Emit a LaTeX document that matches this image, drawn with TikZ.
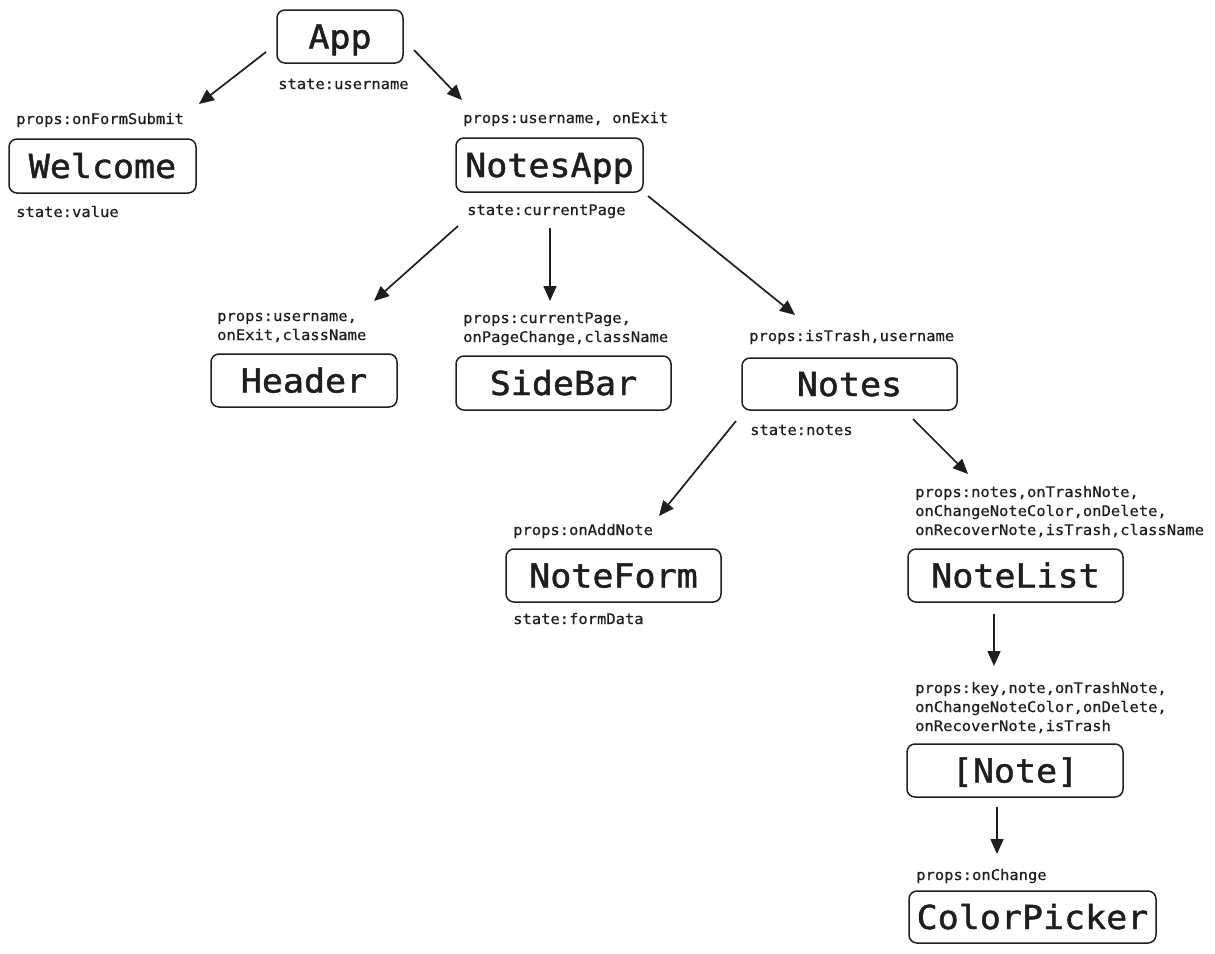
\documentclass[tikz,border=0pt]{standalone}
\usepackage{fontspec}
\newfontfamily\codefont[FakeStretch=1.06,FakeBold=0.6]{DejaVu Sans Mono}
\newfontfamily\namefont[FakeStretch=1.06,FakeBold=1.4]{DejaVu Sans Mono}
\usetikzlibrary{arrows.meta}
\definecolor{ink}{HTML}{1E1E1E}
\begin{document}
\begin{tikzpicture}[x=1pt,y=-1pt,
  comp/.style={draw=ink, line width=1.5pt, rounded corners=8pt, inner sep=0pt,
    text=ink, font=\namefont\fontsize{33}{36}\selectfont,
    text height=24pt, text depth=0pt},
  lbl/.style={anchor=base west, inner sep=0pt, text=ink, align=left,
    font=\codefont\fontsize{14.6}{19}\selectfont},
  arr/.style={draw=ink, line width=1.7pt, -{Triangle[length=15pt,width=13pt]}}]
\useasboundingbox (0,0) rectangle (1215,953);

% component boxes
\node[comp, minimum width=126pt, minimum height=53pt] (app)      at (340,36.5)   {App};
\node[comp, minimum width=187pt, minimum height=54pt] (welcome)  at (102.5,166)  {Welcome};
\node[comp, minimum width=187pt, minimum height=54pt] (notesapp) at (549.5,165)  {NotesApp};
\node[comp, minimum width=186pt, minimum height=53pt] (header)   at (304,380.5)  {Header};
\node[comp, minimum width=215pt, minimum height=54pt] (sidebar)  at (563.5,383)  {SideBar};
\node[comp, minimum width=215pt, minimum height=52pt] (notes)    at (849.5,384)  {Notes};
\node[comp, minimum width=215pt, minimum height=53pt] (noteform) at (613.5,575.5) {NoteForm};
\node[comp, minimum width=215pt, minimum height=53pt] (notelist) at (1015.5,575.5) {NoteList};
\node[comp, minimum width=216pt, minimum height=53pt] (note)     at (1015,770.5) {[Note]};
\node[comp, minimum width=247pt, minimum height=52pt] (picker)   at (1032.5,917) {ColorPicker};

% props and state labels (multi-line ones sit on the baseline of their last line)
\node[lbl] (appstate)      at (278,89)  {state:username};
\node[lbl] (welcomeprops)  at (16,124)  {props:onFormSubmit};
\node[lbl] (welcomestate)  at (16,217)  {state:value};
\node[lbl] (notesappprops) at (463,123) {props:username, onExit};
\node[lbl] (notesappstate) at (467,215) {state:currentPage};
\node[lbl] (headerprops)   at (217,340) {props:username,\\onExit,className};
\node[lbl] (sidebarprops)  at (463,342) {props:currentPage,\\onPageChange,className};
\node[lbl] (notesprops)    at (749,341) {props:isTrash,username};
\node[lbl] (notesstate)    at (750,435) {state:notes};
\node[lbl] (formprops)     at (513,535) {props:onAddNote};
\node[lbl] (formstate)     at (513,624) {state:formData};
\node[lbl] (listprops)     at (915,535) {props:notes,onTrashNote,\\onChangeNoteColor,onDelete,\\onRecoverNote,isTrash,className};
\node[lbl] (noteprops)     at (915,731) {props:key,note,onTrashNote,\\onChangeNoteColor,onDelete,\\onRecoverNote,isTrash};
\node[lbl] (pickerprops)   at (916,880) {props:onChange};

% connector end points
\coordinate (a1) at (266,52);   \coordinate (a2) at (199,104);
\coordinate (b1) at (414,50);   \coordinate (b2) at (462,100);
\coordinate (c1) at (458,226);  \coordinate (c2) at (374,301);
\coordinate (d1) at (550,228);  \coordinate (d2) at (550,301);
\coordinate (e1) at (648,196);  \coordinate (e2) at (795,315);
\coordinate (f1) at (736,421);  \coordinate (f2) at (659,516);
\coordinate (g1) at (913,419);  \coordinate (g2) at (968,474);
\coordinate (h1) at (994,614);  \coordinate (h2) at (994,666);
\coordinate (i1) at (997,807);  \coordinate (i2) at (997,854);

% parent to child arrows
\draw[arr] (a1) -- (a2);
\draw[arr] (b1) -- (b2);
\draw[arr] (c1) -- (c2);
\draw[arr] (d1) -- (d2);
\draw[arr] (e1) -- (e2);
\draw[arr] (f1) -- (f2);
\draw[arr] (g1) -- (g2);
\draw[arr] (h1) -- (h2);
\draw[arr] (i1) -- (i2);
\end{tikzpicture}
\end{document}
